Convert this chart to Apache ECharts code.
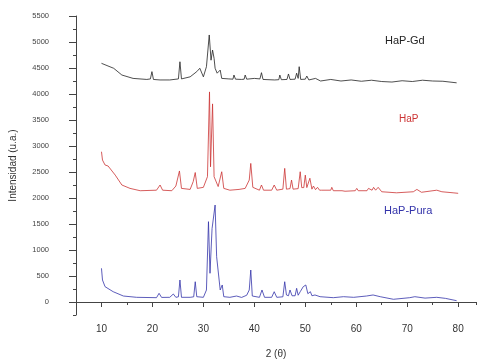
<!DOCTYPE html>
<html><head><meta charset="utf-8">
<script src="https://cdn.jsdelivr.net/npm/echarts@6/dist/echarts.min.js"></script>
<style>html,body{margin:0;padding:0;background:#fff}#c{width:478px;height:364px}</style>
</head><body><div id="c"></div>
<script>
// 2θ positions and intensities (offset curves)
const gdX = [10.0,12.4,14.0,16.2,18.9,19.6,19.9,20.2,21.5,23.4,25.1,25.4,25.7,27.4,28.7,29.3,30.0,30.6,31.15,31.5,31.8,32.1,32.3,32.7,33.3,33.6,35.0,35.8,36.0,36.3,37.5,38.0,38.2,38.5,40.0,41.1,41.4,41.7,44.0,44.8,45.0,45.3,46.4,46.7,47.0,48.0,48.3,48.6,48.8,49.1,50.0,50.3,50.7,52.0,53.0,55.0,57.0,59.0,61.0,63.0,65.0,67.0,69.0,71.0,73.0,75.0,77.0,79.7];
const gdY = [4590,4494,4365,4300,4280,4290,4430,4280,4270,4270,4290,4620,4290,4330,4430,4495,4330,4525,5135,4650,4845,4685,4495,4400,4460,4300,4290,4285,4365,4285,4280,4285,4365,4285,4300,4290,4410,4280,4270,4275,4365,4275,4280,4385,4280,4285,4400,4300,4525,4280,4285,4345,4270,4300,4250,4280,4250,4270,4245,4265,4240,4230,4255,4240,4265,4250,4245,4215];

const hapX = [10.0,10.2,10.7,11.3,12.7,14.0,15.6,17.6,20.8,21.5,22.0,23.8,24.6,25.3,25.7,27.4,28.0,28.4,28.8,30.0,30.8,31.2,31.4,31.8,32.1,32.9,33.6,34.0,35.2,37.0,38.2,39.0,39.3,39.7,41.0,41.4,41.8,43.4,43.9,44.4,45.6,45.96,46.3,47.0,47.3,47.6,48.6,49.0,49.3,49.7,50.0,50.3,50.6,50.9,51.3,51.6,52.0,52.4,52.8,53.2,55.0,55.2,55.5,57.2,57.5,57.8,59.8,60.1,60.4,62.1,62.4,62.7,63.1,63.4,63.8,64.3,65.0,67.9,71.2,71.9,72.8,75.8,76.8,79.0,80.0];
const hapY = [2890,2730,2635,2615,2440,2250,2185,2140,2150,2250,2150,2140,2230,2520,2185,2165,2315,2490,2185,2205,2410,4040,2600,3810,2410,2220,2505,2185,2150,2165,2185,2345,2665,2205,2150,2250,2150,2150,2250,2150,2170,2570,2170,2180,2345,2170,2180,2505,2200,2200,2440,2200,2190,2380,2170,2230,2160,2205,2150,2150,2150,2205,2140,2140,2165,2130,2140,2185,2140,2140,2185,2150,2150,2205,2150,2205,2120,2100,2120,2165,2110,2150,2120,2100,2090];

const puraX = [10.0,10.2,10.7,12.3,14.3,16.9,20.8,21.3,21.8,23.4,24.1,24.6,25.1,25.4,25.7,27.4,28.1,28.4,28.7,30.0,30.6,31.0,31.3,31.7,32.3,32.6,33.3,33.7,34.0,35.2,36.5,37.5,38.5,39.0,39.3,39.6,41.0,41.5,42.0,43.4,43.9,44.4,45.6,45.96,46.3,46.7,47.0,47.4,48.0,48.3,48.6,49.0,49.6,50.1,50.5,51.0,51.3,51.9,52.9,55.5,57.5,59.5,62.0,63.3,64.7,67.3,70.5,71.5,73.5,75.8,77.5,79.7];
const puraY = [648,423,295,198,115,90,83,167,88,90,154,90,100,423,90,90,100,390,102,90,231,1545,552,1410,1865,871,231,327,102,90,115,88,130,231,615,115,90,231,90,90,198,90,100,390,135,120,231,120,120,263,130,198,295,327,160,198,120,135,102,83,102,90,115,135,102,52,83,102,75,90,70,25];

const yMajor = [0,500,1000,1500,2000,2500,3000,3500,4000,4500,5000,5500];
const xMajor = [10,20,30,40,50,60,70,80];
const seriesNames = ['HaP-Gd','HaP','HaP-Pura'];

function pairs(xs, ys){ return xs.map((x,i)=>[x, ys[i]]); }

const chart = echarts.init(document.getElementById('c'), null, {renderer:'canvas'});
const axisCol = '#444';
const font = 'Liberation Sans, Arial, sans-serif';
chart.setOption({
  animation:false,
  backgroundColor:'#fff',
  grid:{left:76, right:2, top:16, bottom:49},
  xAxis:[{
    type:'value', min:5, max:83.5,
    axisLine:{lineStyle:{color:axisCol,width:1}},
    axisTick:{show:true, length:5, customValues:xMajor, lineStyle:{color:axisCol}},
    axisLabel:{customValues:xMajor, color:'#333', fontSize:10, fontFamily:font, margin:9, formatter:v=>String(v)},
    splitLine:{show:false},
    name:'2 (θ)', nameLocation:'middle', nameGap:34,
    nameTextStyle:{color:'#333', fontSize:10, fontFamily:font}
  },{
    type:'value', min:5, max:83.5, interval:5, position:'bottom',
    axisLine:{show:false},
    axisTick:{show:true, length:3, lineStyle:{color:axisCol}},
    axisLabel:{show:false}, splitLine:{show:false}
  }],
  yAxis:[{
    type:'value', min:-250, max:5500,
    axisLine:{show:true, lineStyle:{color:axisCol,width:1}},
    axisTick:{show:true, length:7, customValues:yMajor, lineStyle:{color:axisCol}},
    axisLabel:{customValues:yMajor, color:'#444', fontSize:7.5, fontFamily:font, margin:27, formatter:v=>String(v)},
    splitLine:{show:false},
    name:'Intensidad (u.a.)', nameLocation:'middle', nameGap:58, nameRotate:90,
    nameTextStyle:{color:'#333', fontSize:10, fontFamily:font}
  },{
    type:'value', min:-250, max:5500, interval:250, position:'left',
    axisLine:{show:false},
    axisTick:{show:true, length:3, lineStyle:{color:axisCol}},
    axisLabel:{show:false}, splitLine:{show:false}
  }],
  series:[
    {name:seriesNames[0], type:'line', xAxisIndex:0, yAxisIndex:0, data:pairs(gdX,gdY), showSymbol:false, lineStyle:{color:'#222', width:0.8}},
    {name:seriesNames[1], type:'line', xAxisIndex:0, yAxisIndex:0, data:pairs(hapX,hapY), showSymbol:false, lineStyle:{color:'#cc3333', width:0.8}},
    {name:seriesNames[2], type:'line', xAxisIndex:0, yAxisIndex:0, data:pairs(puraX,puraY), showSymbol:false, lineStyle:{color:'#3333aa', width:0.8}}
  ],
  graphic:[
    {type:'text', left:385, top:35, style:{text:seriesNames[0], fill:'#222', font:'11px '+font}},
    {type:'text', left:399, top:114, style:{text:seriesNames[1], fill:'#cc3333', font:'10px '+font}},
    {type:'text', left:384, top:205, style:{text:seriesNames[2], fill:'#3333aa', font:'11px '+font}}
  ]
});
</script></body></html>
